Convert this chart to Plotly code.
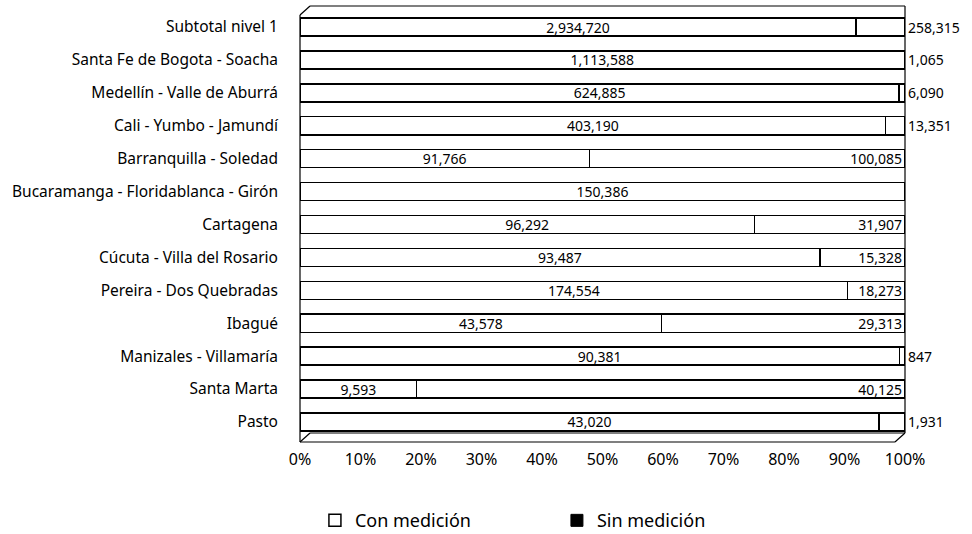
import plotly.graph_objects as go

# categories, top to bottom
ciudades = [
    "Subtotal nivel 1",
    "Santa Fe de Bogota - Soacha",
    "Medellín - Valle de Aburrá",
    "Cali - Yumbo - Jamundí",
    "Barranquilla - Soledad",
    "Bucaramanga - Floridablanca - Girón",
    "Cartagena",
    "Cúcuta - Villa del Rosario",
    "Pereira - Dos Quebradas",
    "Ibagué",
    "Manizales - Villamaría",
    "Santa Marta",
    "Pasto",
]
con_medicion = [2934720, 1113588, 624885, 403190, 91766, 150386, 96292,
                93487, 174554, 43578, 90381, 9593, 43020]
sin_medicion = [258315, 1065, 6090, 13351, 100085, 0, 31907,
                15328, 18273, 29313, 847, 40125, 1931]

FONT = "Noto Sans"

con_text = [f"{v:,}" for v in con_medicion]
sin_text = [f"{v:,}" if v else "" for v in sin_medicion]
# small slices get their label outside the bar
sin_pos = ["inside" if s / (c + s) > 0.09 else "outside"
           for c, s in zip(con_medicion, sin_medicion)]

fig = go.Figure()

fig.add_trace(go.Bar(
    y=ciudades, x=con_medicion, orientation="h", showlegend=False,
    marker=dict(color="white", line=dict(color="black", width=1.5)),
    text=con_text, textposition="inside", insidetextanchor="middle",
    textfont=dict(family=FONT, size=14, color="black"),
    constraintext="none", cliponaxis=False, hoverinfo="skip",
))
fig.add_trace(go.Bar(
    y=ciudades, x=sin_medicion, orientation="h", showlegend=False,
    marker=dict(color="white", line=dict(color="black", width=1.5)),
    text=sin_text, textposition=sin_pos, insidetextanchor="end",
    textfont=dict(family=FONT, size=14, color="black"),
    constraintext="none", cliponaxis=False, hoverinfo="skip",
))

# legend swatches only
fig.add_trace(go.Bar(x=[None], y=[None], orientation="h", name="Con medición",
                     marker=dict(color="white", line=dict(color="black", width=1.5))))
fig.add_trace(go.Bar(x=[None], y=[None], orientation="h", name="Sin medición",
                     marker=dict(color="black", line=dict(color="black", width=1))))

# 3D-looking box around the plot area
dx, dy = 0.0166, 0.0206
frame = [
    (0, 0, 0, 1 - dy),            # front left wall
    (0, 1 - dy, dx, 1),           # top-left corner
    (dx, 1, 1, 1),                # back top
    (1, 1, 1, dy),                # right wall
    (1, dy, 1 - dx, 0),           # floor corner right
    (0, 0, 1 - dx, 0),            # front floor edge
    (0, 0, dx, dy),               # floor corner left
    (dx, dy, 1, dy),              # back floor edge
]
for x0, y0, x1, y1 in frame:
    fig.add_shape(type="line", xref="x domain", yref="y domain",
                  x0=x0, y0=y0, x1=x1, y1=y1,
                  line=dict(color="black", width=1.2))

fig.update_layout(
    width=972, height=534,
    barmode="stack", barnorm="percent", bargap=0.45,
    paper_bgcolor="white", plot_bgcolor="white",
    margin=dict(l=300, r=67, t=6, b=92),
    font=dict(family=FONT, size=14, color="black"),
    legend=dict(orientation="h", traceorder="normal",
                xref="container", yref="container",
                x=0.324, xanchor="left", y=0.025, yanchor="middle",
                entrywidth=197, entrywidthmode="pixels",
                font=dict(family=FONT, size=18)),
)
fig.update_xaxes(range=[0, 100], tickvals=list(range(0, 101, 10)),
                 ticktext=[f"{v}%" for v in range(0, 101, 10)],
                 showgrid=False, zeroline=False, showline=False,
                 ticks="", ticklen=0, ticklabelstandoff=6,
                 tickfont=dict(family=FONT, size=16))
fig.update_yaxes(type="category", categoryorder="array", categoryarray=ciudades,
                 range=[12.61, -0.64], showgrid=False, zeroline=False,
                 showline=False, ticks="", ticklabelstandoff=21,
                 tickfont=dict(family=FONT, size=15.5))

fig.write_html("out.html", config={"displayModeBar": False},
               post_script="document.body.style.margin = '0';")
